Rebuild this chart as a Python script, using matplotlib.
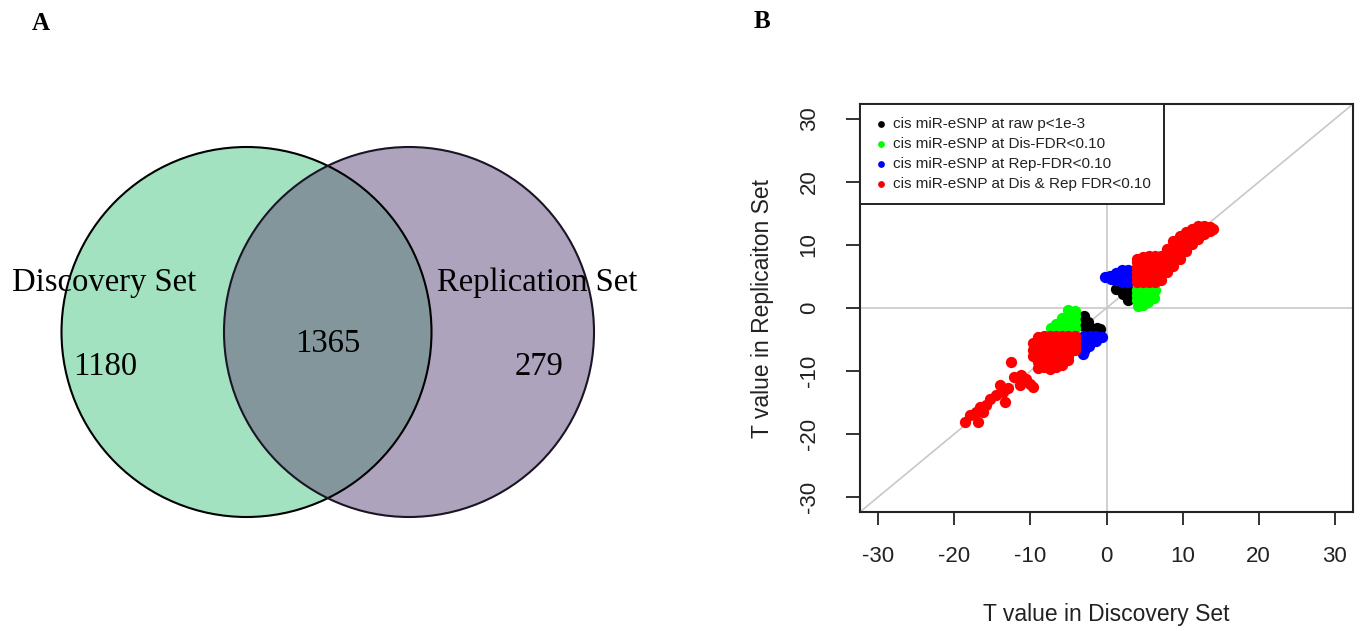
import matplotlib
matplotlib.use("Agg")
import matplotlib.pyplot as plt
from matplotlib.patches import Circle

plt.rcParams['axes.unicode_minus'] = False

# ---- panel A: venn counts ----
set_names = ["Discovery Set", "Replication Set"]
only_dis = 1180
both = 1365
only_rep = 279

# ---- panel B: T values (discovery, replication) ----
black_pts = [(2.0, 2.9), (2.8, 2.9), (2.8, 2.1), (2.8, 1.2), (1.3, 3.0), (2.2, 2.3),
             (-3.0, -1.2), (-3.0, -2.0), (-3.0, -2.9), (-2.2, -3.1), (-1.3, -3.2),
             (-2.4, -2.3), (-0.8, -3.3)]
green_pts = [(4.0, 2.8), (4.8, 2.8), (5.6, 2.8), (6.4, 2.8), (4.0, 2.0), (4.8, 2.0),
             (5.6, 2.0), (6.2, 1.6), (4.0, 1.2), (4.8, 1.1), (5.5, 0.9), (4.2, 0.3),
             (4.8, 0.4),
             (-4.2, -0.4), (-5.0, -0.3), (-4.2, -1.3), (-5.0, -1.3), (-5.8, -1.6),
             (-4.2, -2.2), (-5.0, -2.2), (-5.8, -2.4), (-6.6, -2.6), (-4.2, -3.1),
             (-5.0, -3.1), (-5.8, -3.1), (-6.6, -3.1), (-7.3, -3.1)]
blue_pts = [(2.8, 6.0), (2.0, 6.0), (1.3, 5.6), (0.5, 5.1), (-0.2, 4.9), (2.8, 5.2),
            (2.0, 5.1), (2.8, 4.2), (2.0, 4.2), (1.2, 4.4), (0.6, 4.6), (1.4, 5.0),
            (-3.0, -4.5), (-2.2, -4.5), (-1.4, -4.5), (-0.6, -4.6), (-3.0, -5.3),
            (-2.2, -5.3), (-1.4, -5.2), (-3.0, -6.1), (-2.3, -6.0), (-3.0, -6.9),
            (-3.1, -7.3)]
red_pts = [
    # upper right
    (4.0, 4.1), (4.0, 4.9), (4.0, 5.7), (4.0, 6.5), (4.0, 7.3), (4.0, 7.8),
    (4.8, 4.1), (4.8, 4.9), (4.8, 5.7), (4.8, 6.5), (4.8, 7.3), (4.8, 8.1),
    (5.6, 4.1), (5.6, 4.9), (5.6, 5.7), (5.6, 6.5), (5.6, 7.3), (5.6, 8.2),
    (6.4, 4.1), (6.4, 4.9), (6.4, 5.7), (6.4, 6.5), (6.4, 7.3), (6.4, 8.2),
    (7.2, 4.4), (7.2, 5.2), (7.2, 6.0), (7.2, 6.8), (7.2, 7.6), (7.2, 8.3),
    (8.0, 5.7), (8.0, 6.5), (8.0, 7.3), (8.0, 8.1), (8.0, 8.9), (8.0, 9.3),
    (8.8, 6.6), (8.8, 7.4), (8.8, 8.2), (8.8, 9.0), (8.8, 9.8), (8.8, 10.6),
    (9.6, 7.8), (9.6, 8.6), (9.6, 9.4), (9.6, 11.0), (9.6, 11.4),
    (10.4, 9.0), (10.4, 9.8), (10.4, 11.2), (10.4, 12.0),
    (11.2, 10.2), (11.2, 11.0), (11.2, 11.8), (11.2, 12.5),
    (12.0, 11.0), (12.0, 11.8), (12.0, 12.6), (12.0, 13.1),
    (12.8, 11.8), (12.8, 12.6), (12.8, 13.0), (13.6, 12.2), (13.6, 12.9), (14.0, 12.6),
    # lower left body
    (-4.2, -4.5), (-4.2, -5.3), (-4.2, -6.1), (-4.2, -6.7),
    (-5.0, -4.5), (-5.0, -5.3), (-5.0, -6.1), (-5.0, -6.9), (-5.0, -7.6), (-5.0, -8.3),
    (-5.8, -4.5), (-5.8, -5.3), (-5.8, -6.1), (-5.8, -6.9), (-5.8, -7.7), (-5.8, -8.5), (-5.8, -9.0),
    (-6.6, -4.5), (-6.6, -5.3), (-6.6, -6.1), (-6.6, -6.9), (-6.6, -7.7), (-6.6, -8.5), (-6.6, -9.3),
    (-7.4, -4.5), (-7.4, -5.3), (-7.4, -6.1), (-7.4, -6.9), (-7.4, -7.7), (-7.4, -8.5), (-7.4, -9.3), (-7.4, -9.7),
    (-8.2, -4.5), (-8.2, -5.3), (-8.2, -6.1), (-8.2, -6.9), (-8.2, -7.7), (-8.2, -8.5), (-8.2, -9.3),
    (-9.0, -4.6), (-9.0, -5.4), (-9.0, -6.2), (-9.0, -7.0), (-9.0, -7.8), (-9.0, -8.6), (-9.0, -9.6),
    (-9.6, -5.6), (-9.6, -6.6), (-9.6, -7.6),
    # lower left tail
    (-12.5, -8.5), (-12.1, -10.9), (-11.2, -10.6), (-11.4, -12.2), (-10.1, -12.0),
    (-9.6, -12.5), (-10.6, -11.3), (-14.0, -12.2), (-13.6, -13.3), (-12.9, -12.7),
    (-14.5, -13.8), (-15.3, -14.4), (-15.8, -15.4), (-13.4, -14.9), (-16.6, -15.7),
    (-17.1, -16.5), (-18.0, -17.0), (-18.6, -18.1), (-16.9, -18.1), (-16.2, -16.5),
]
legend_labels = ["cis miR-eSNP at raw p<1e-3", "cis miR-eSNP at Dis-FDR<0.10",
                 "cis miR-eSNP at Rep-FDR<0.10", "cis miR-eSNP at Dis & Rep FDR<0.10"]
groups = [black_pts, green_pts, blue_pts, red_pts]
colors = ["black", "#00ff00", "#0000ff", "#ff0000"]
ticks = [-30, -20, -10, 0, 10, 20, 30]

fig = plt.figure(figsize=(13.63, 6.31), dpi=100)

# ---------- A ----------
axA = fig.add_axes([0, 0, 0.5, 1])
axA.set_xlim(0, 681.5)
axA.set_ylim(631, 0)
axA.axis("off")
cA = (246.5, 332)
cB = (409, 332)
r = 185
axA.add_patch(Circle(cA, r, facecolor="#a2e2c0", edgecolor="none"))
axA.add_patch(Circle(cB, r, facecolor="#aea3bd", edgecolor="none"))
inter = Circle(cA, r, facecolor="#82969c", edgecolor="none")
axA.add_patch(inter)
clip = Circle(cB, r, transform=axA.transData)
inter.set_clip_path(clip)
axA.add_patch(Circle(cA, r, facecolor="none", edgecolor="black", lw=1.5))
axA.add_patch(Circle(cB, r, facecolor="none", edgecolor="#1a1424", lw=1.5))

serif = "Liberation Serif"
axA.text(104.5, 283, set_names[0], fontsize=23.5, family=serif, ha="center", va="center")
axA.text(537, 283, set_names[1], fontsize=23.5, family=serif, ha="center", va="center")
axA.text(328, 344, str(both), fontsize=23.5, family=serif, ha="center", va="center")
axA.text(105, 367, str(only_dis), fontsize=23.5, family=serif, ha="center", va="center")
axA.text(539, 367, str(only_rep), fontsize=23.5, family=serif, ha="center", va="center")
axA.text(41, 24, "A", fontsize=18, family=serif, weight="bold", ha="center", va="center")

fig.text(762 / 1363, 1 - 22 / 631, "B", fontsize=18, family=serif, weight="bold",
         ha="center", va="center")

# ---------- B ----------
sans = "Liberation Sans"
ax = fig.add_axes([860 / 1363, (631 - 512) / 631, 493 / 1363, 408 / 631])
ax.set_xlim(-32.4, 32.4)
ax.set_ylim(-32.4, 32.4)
ax.axhline(0, color="#c8c8c8", lw=1.2, zorder=1)
ax.axvline(0, color="#c8c8c8", lw=1.2, zorder=1)
ax.axline((0, 0), slope=1, color="#c8c8c8", lw=1.2, zorder=1)

for pts, col, lab in zip(groups, colors, legend_labels):
    xs = [p[0] for p in pts]
    ys = [p[1] for p in pts]
    ax.scatter(xs, ys, s=66, color=col, linewidths=0, label=lab, zorder=2)

ax.set_xticks(ticks)
ax.set_yticks(ticks)
ax.set_xticklabels([str(t) for t in ticks], family=sans, fontsize=16, color="#222222")
ax.set_yticklabels([str(t) for t in ticks], family=sans, fontsize=16, color="#222222",
                   rotation=90, va="center")
ax.tick_params(axis="x", length=9.5, width=1.3, pad=15, color="#222222")
ax.tick_params(axis="y", length=10, width=1.3, pad=19, color="#222222")
for sp in ax.spines.values():
    sp.set_linewidth(1.5)
    sp.set_color("#222222")

ax.set_xlabel("T value in Discovery Set", family=sans, fontsize=16.5, color="#222222")
ax.xaxis.set_label_coords(0.5, -(615 - 512) / 408)
ax.xaxis.label.set_va("center")
ax.set_ylabel("T value in Replicaiton Set", family=sans, fontsize=16.5, color="#222222")
ax.yaxis.set_label_coords(-(860 - 762) / 493, 0.5)
ax.yaxis.label.set_va("center")

leg = ax.legend(loc="upper left", borderaxespad=0, fancybox=False, framealpha=1,
                edgecolor="#222222", prop={"family": sans, "size": 11},
                markerscale=0.6, handletextpad=0.2, labelspacing=0.4,
                borderpad=0.85, handlelength=1.1, scatterpoints=1)
leg.get_frame().set_linewidth(1.4)
for t in leg.get_texts():
    t.set_color("#222222")

fig.savefig("out.png", dpi=100)
